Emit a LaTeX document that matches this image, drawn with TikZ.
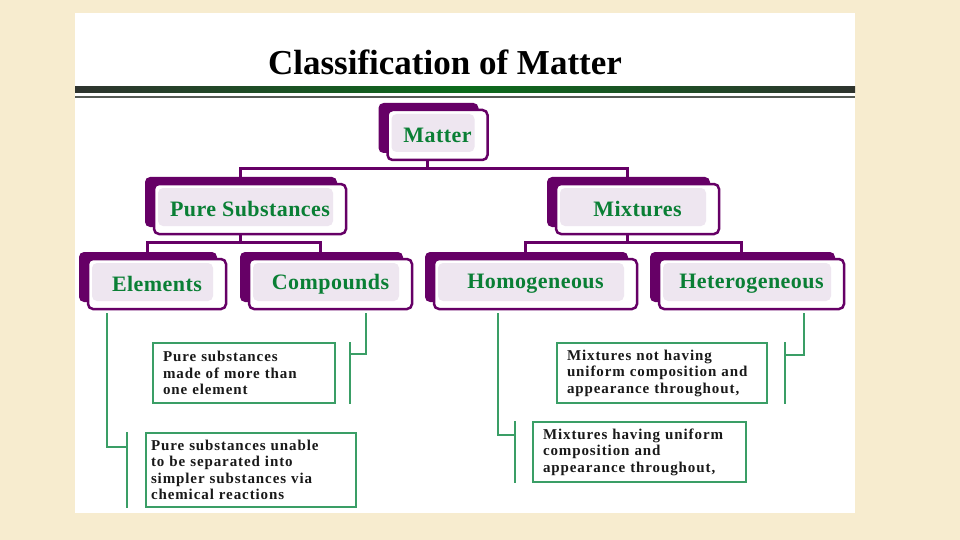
\documentclass[tikz,border=0pt]{standalone}
\usepackage{fontspec}
\setmainfont{Liberation Serif}
\newfontfamily\labelfont[LetterSpace=2]{Liberation Serif}
\newfontfamily\notefont[LetterSpace=6]{Liberation Serif}
\usetikzlibrary{shadows,backgrounds}

\definecolor{parchment}{HTML}{F7ECCF}
\definecolor{classpurple}{HTML}{660066}
\definecolor{lavender}{HTML}{EEE6F0}
\definecolor{labelgreen}{HTML}{0A7F35}
\definecolor{notegreen}{HTML}{3A9E66}
\definecolor{ruledark}{HTML}{2E332E}
\definecolor{rulegreen}{HTML}{0B6B1B}
\definecolor{rulegray}{HTML}{555A55}

\begin{document}
\begin{tikzpicture}[x=1pt, y=-1pt,
    catbox/.style={rounded corners=5pt, draw=classpurple, line width=2.5pt, fill=white,
        minimum height=50pt, inner sep=0pt, text=labelgreen,
        font=\labelfont\bfseries\fontsize{22}{26}\selectfont,
        general shadow={fill=classpurple, shadow xshift=-9pt, shadow yshift=7pt},
        path picture={\fill[lavender] ([shift={(4pt,-4pt)}]path picture bounding box.north west)
            rectangle ([shift={(-13pt,8pt)}]path picture bounding box.south east);}},
    notebox/.style={draw=notegreen, line width=1.6pt, fill=white, inner xsep=10pt, inner ysep=4pt,
        align=left, text=black!90, font=\notefont\bfseries\fontsize{15}{16.5}\selectfont},
    tree/.style={draw=classpurple, line width=3pt},
    link/.style={draw=notegreen, line width=1.5pt}]

    \useasboundingbox (0,0) rectangle (960,540);
    \begin{scope}[on background layer]
        \fill[parchment] (0,0) rectangle (960,540);
        \fill[white] (75,13) rectangle (855,513);
        \shade[left color=ruledark, right color=ruledark, middle color=rulegreen] (75,87) rectangle (855,93);
        \fill[rulegray] (75,96) rectangle (855,98.5);
    \end{scope}

    \node[font=\bfseries\fontsize{35}{40}\selectfont] (title) at (445,62) {Classification of Matter};

    % categories
    \node[catbox, minimum width=100pt] (matter) at (437.5,135) {Matter};
    \node[catbox, minimum width=192pt] (pure) at (250,209) {Pure Substances};
    \node[catbox, minimum width=163pt] (mix) at (637.5,209) {Mixtures};
    \node[catbox, minimum width=138pt] (elem) at (157,284) {Elements};
    \node[catbox, minimum width=163pt] (comp) at (330.5,284) {Compounds};
    \node[catbox, minimum width=203pt] (homo) at (535.5,284) {Homogeneous};
    \node[catbox, minimum width=185pt] (hetero) at (751.5,284) {Heterogeneous};

    % definitions
    \node[notebox, text width=162pt, minimum height=60pt] (compnote) at (244,373)
        {Pure substances\\ made of more than\\ one element};
    \node[notebox, inner xsep=5pt, text width=200pt, minimum height=74pt] (elemnote) at (251,470)
        {Pure substances unable\\ to be separated into\\ simpler substances via\\ chemical reactions};
    \node[notebox, text width=193pt, minimum height=60pt] (homonote) at (639.5,452)
        {Mixtures having uniform\\ composition and\\ appearance throughout,};
    \node[notebox, text width=190pt, minimum height=60pt] (heteronote) at (662,373)
        {Mixtures not having\\ uniform composition and\\ appearance throughout,};

    \begin{scope}[on background layer]
        \foreach \up/\down in {matter/pure, matter/mix, pure/elem, pure/comp, mix/homo, mix/hetero}
            \draw[tree] ([xshift=-10pt]\up.south) -- ++(0,7) -| ([xshift=-10pt]\down.north);
    \end{scope}

    \draw[link] ([xshift=-50pt,yshift=-3pt]elem.south) |- ([xshift=-18pt,yshift=23pt]elemnote.west);
    \draw[link] ([xshift=-18pt]elemnote.north west) -- ([xshift=-18pt]elemnote.south west);
    \draw[link] ([xshift=35.5pt,yshift=-3pt]comp.south) |- ([xshift=14pt,yshift=19pt]compnote.east);
    \draw[link] ([xshift=14pt]compnote.north east) -- ([xshift=14pt]compnote.south east);
    \draw[link] ([xshift=-37.5pt,yshift=-3pt]homo.south) |- ([xshift=-17pt,yshift=17pt]homonote.west);
    \draw[link] ([xshift=-17pt]homonote.north west) -- ([xshift=-17pt]homonote.south west);
    \draw[link] ([xshift=52.5pt,yshift=-3pt]hetero.south) |- ([xshift=17pt,yshift=18pt]heteronote.east);
    \draw[link] ([xshift=17pt]heteronote.north east) -- ([xshift=17pt]heteronote.south east);
\end{tikzpicture}
\end{document}
